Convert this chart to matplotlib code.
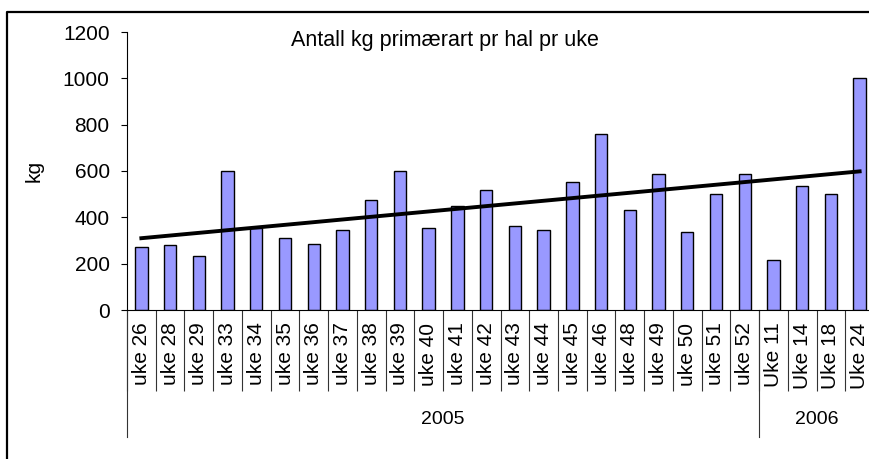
# =========================
# 1. Import libraries
# =========================
import numpy as np
import matplotlib
matplotlib.use("Agg")
import matplotlib.pyplot as plt
from matplotlib.lines import Line2D

plt.rcParams["font.family"] = ["Liberation Sans", "DejaVu Sans"]

# =========================
# 2. Data
# =========================
weeks = ["uke 26", "uke 28", "uke 29", "uke 33", "uke 34", "uke 35", "uke 36",
         "uke 37", "uke 38", "uke 39", "uke 40", "uke 41", "uke 42", "uke 43",
         "uke 44", "uke 45", "uke 46", "uke 48", "uke 49", "uke 50", "uke 51",
         "uke 52", "Uke 11", "Uke 14", "Uke 18", "Uke 24"]
kg = [270, 280, 235, 600, 355, 312, 286, 347, 475, 600, 355, 450, 520, 363,
      346, 553, 760, 432, 588, 338, 501, 588, 217, 536, 501, 1000]
years = ["2005", "2006"]
year_counts = [22, 4]

# =========================
# 3. Plot
# =========================
fig = plt.figure(figsize=(8.7, 4.59), dpi=100)
ax = fig.add_axes([127 / 870, 149 / 459, 747 / 870, 278 / 459])

x = np.arange(len(weeks))
ax.bar(x, kg, width=0.43, color="#9999FF", edgecolor="black", linewidth=1.0, zorder=2)

# linear trend line, as in the spreadsheet
slope, intercept = np.polyfit(x, kg, 1)
ax.plot(x, slope * x + intercept, color="black", linewidth=2.8, zorder=3)

ax.set_xlim(-0.5, len(weeks) - 0.5)
ax.set_ylim(0, 1200)
ax.set_yticks(range(0, 1201, 200))
ax.tick_params(axis="y", labelsize=15, length=4.5, width=0.8, pad=8)

# category separators as major ticks, labels on minor ticks
ax.set_xticks(np.arange(-0.5, len(weeks), 1.0))
ax.set_xticklabels([])
ax.tick_params(axis="x", which="major", length=58, width=0.8, color="#333333")
ax.set_xticks(x, minor=True)
ax.set_xticklabels(weeks, minor=True, rotation=90, fontsize=15)
ax.tick_params(axis="x", which="minor", length=0, pad=9)

for side in ["top", "right"]:
    ax.spines[side].set_visible(False)
ax.spines["left"].set_linewidth(0.8)
ax.spines["bottom"].set_linewidth(0.8)

ax.set_ylabel("kg", fontsize=15, labelpad=14)

# year groups below the week labels
trans = ax.get_xaxis_transform()
start = -0.5
for year, n in zip(years, year_counts):
    ax.plot([start, start], [0, -0.457], color="#333333", linewidth=0.8,
            transform=trans, clip_on=False)
    ax.text(start + n / 2, -0.395, year, fontsize=14, ha="center", va="center",
            transform=trans)
    start += n

ax.text(0.22, 0.97, "Antall kg primærart pr hal pr uke", fontsize=15.5,
        transform=ax.transAxes, ha="left", va="center")

# outer chart border (left and top visible)
bx = 7.5 / 870
by = (459 - 12) / 459
fig.add_artist(Line2D([bx, bx, 1.0], [0, by, by], color="black", linewidth=1.6,
                      transform=fig.transFigure))

plt.savefig("out.png", dpi=100)
